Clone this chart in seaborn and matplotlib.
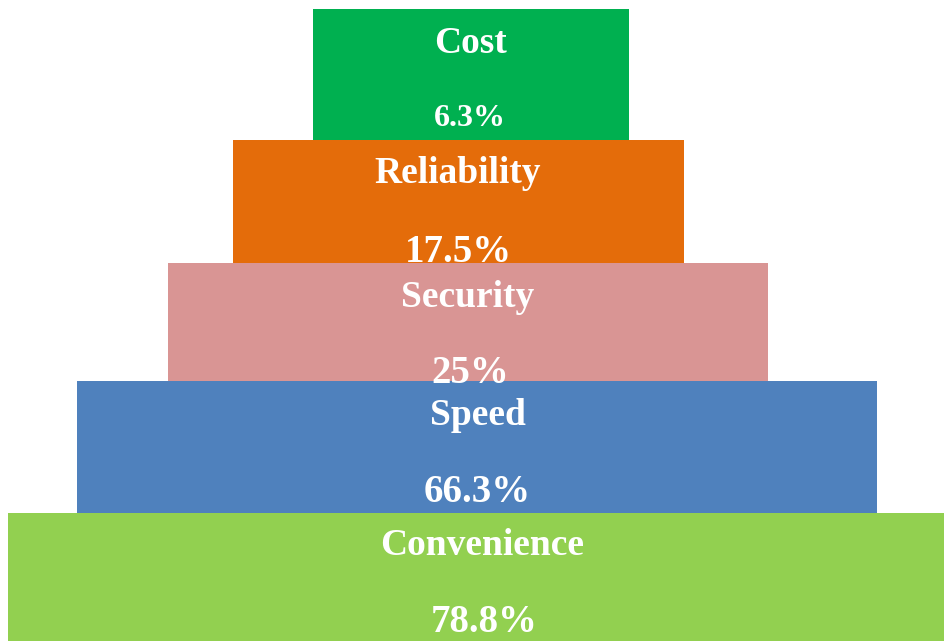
import matplotlib
matplotlib.use("Agg")
import matplotlib.pyplot as plt
import seaborn as sns

# data
categories = ["Cost", "Reliability", "Security", "Speed", "Convenience"]
shares = [6.3, 17.5, 25, 66.3, 78.8]
colors = ["#00B050", "#E46C0A", "#D99594", "#4F81BD", "#92D050"]

# pyramid layout in pixels (figure is 944x641)
bar_left = [313, 233, 168, 77, 8]
bar_right = [629, 684, 768, 877, 944]
bar_top = [9, 140, 263, 381, 513]
bar_bottom = [140, 263, 381, 513, 641]
label_x = [471, 458, 468, 478, 482]
label_base = [53, 183, 307, 425, 555]
value_x = [470, 458, 470, 477, 484]
value_base = [126, 262, 383, 502, 632]
value_size = [23, 28, 28, 28, 28]

sns.set_theme(style="white")
plt.rcParams['font.family'] = ['Liberation Serif', 'DejaVu Serif']

fig = plt.figure(figsize=(9.44, 6.41), dpi=100)
ax = fig.add_axes([0, 0, 1, 1])

widths = [r - l for l, r in zip(bar_left, bar_right)]
sns.barplot(x=widths, y=categories, hue=categories, palette=colors,
            orient="h", width=1, legend=False, ax=ax, saturation=1)

# move each bar into its pyramid step
for i, patch in enumerate(ax.patches):
    patch.set_x(bar_left[i])
    patch.set_y(bar_top[i])
    patch.set_height(bar_bottom[i] - bar_top[i])
    patch.set_linewidth(0)

for i in range(len(categories)):
    ax.text(label_x[i], label_base[i], categories[i], color="white",
            fontsize=27, fontweight="bold", ha="center", va="baseline")
    ax.text(value_x[i], value_base[i], f"{shares[i]:g}%", color="white",
            fontsize=value_size[i], fontweight="bold", ha="center", va="baseline")

ax.set_xlim(0, 944)
ax.set_ylim(641, 0)
ax.axis("off")

fig.savefig("out.png", dpi=100)
